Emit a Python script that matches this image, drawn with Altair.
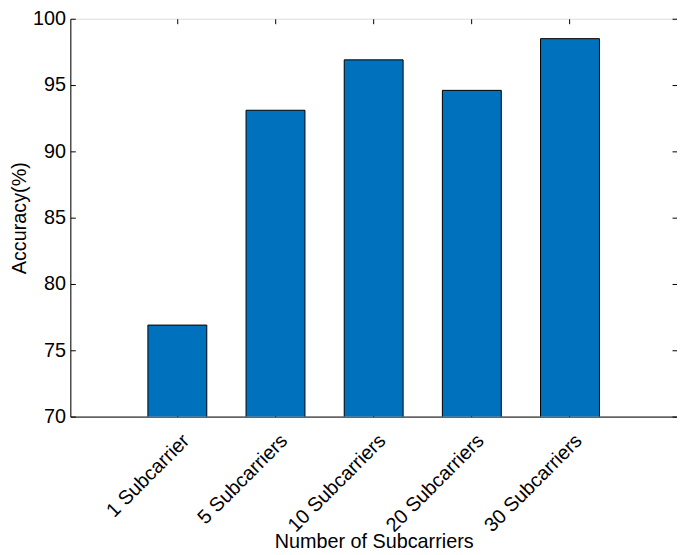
import altair as alt
import pandas as pd

categories = ["1 Subcarrier", "5 Subcarriers", "10 Subcarriers", "20 Subcarriers", "30 Subcarriers"]
accuracy = [76.9, 93.1, 96.9, 94.6, 98.5]
y_ticks = [70, 75, 80, 85, 90, 95, 100]

df = pd.DataFrame({"cat": categories, "acc": accuracy})

FONT = "Liberation Sans"
FS = 20
W, H = 613, 402

xscale = alt.Scale(domain=categories, paddingInner=0.4, paddingOuter=0.79)
yscale = alt.Scale(domain=[70, 100], nice=False, zero=False)

base = alt.Chart(df)

bars = base.mark_bar(color="#0072BD", stroke="black", strokeWidth=1, clip=True).encode(
    x=alt.X("cat:N", sort=categories, scale=xscale,
            axis=alt.Axis(title="Number of Subcarriers", labelAngle=315, labelAlign="right",
                          labelBaseline="middle", labelFontSize=FS, titleFontSize=FS,
                          labelFont=FONT, titleFont=FONT, labelColor="black", titleColor="black",
                          ticks=False, domain=True, domainColor="black", labelPadding=21,
                          labelOffset=9, titlePadding=-4, titleFontWeight="normal")),
    y=alt.Y("acc:Q", scale=yscale,
            axis=alt.Axis(title="Accuracy(%)", values=y_ticks, labelFontSize=FS, titleFontSize=FS,
                          labelFont=FONT, titleFont=FONT, labelColor="black", titleColor="black",
                          ticks=False, domain=True, domainColor="black", labelPadding=5,
                          titlePadding=3, grid=False, titleFontWeight="normal")),
)

def tick_layer(xorient, yorient):
    return base.mark_bar(opacity=0, clip=True).encode(
        x=alt.X("cat:N", sort=categories, scale=xscale,
                axis=alt.Axis(orient=xorient, offset=-5, labels=False, title=None, domain=False,
                              ticks=True, tickSize=5, tickColor="black", grid=False)),
        y=alt.Y("acc:Q", scale=yscale,
                axis=alt.Axis(orient=yorient, offset=-5, values=y_ticks, labels=False, title=None,
                              domain=False, ticks=True, tickSize=5, tickColor="black", grid=False)),
    )

chart = alt.layer(
    bars,
    tick_layer("bottom", "left"),
    tick_layer("top", "right"),
).resolve_scale(x="shared", y="shared").resolve_axis(x="independent", y="independent").properties(
    width=W, height=H,
    autosize=alt.AutoSizeParams(type="none"),
    padding={"left": 63, "top": 8, "right": 0, "bottom": 137},
).configure_view(stroke="black", strokeWidth=1).configure(background="white")

chart.save("out.html", embed_options={"renderer": "svg", "actions": False})
